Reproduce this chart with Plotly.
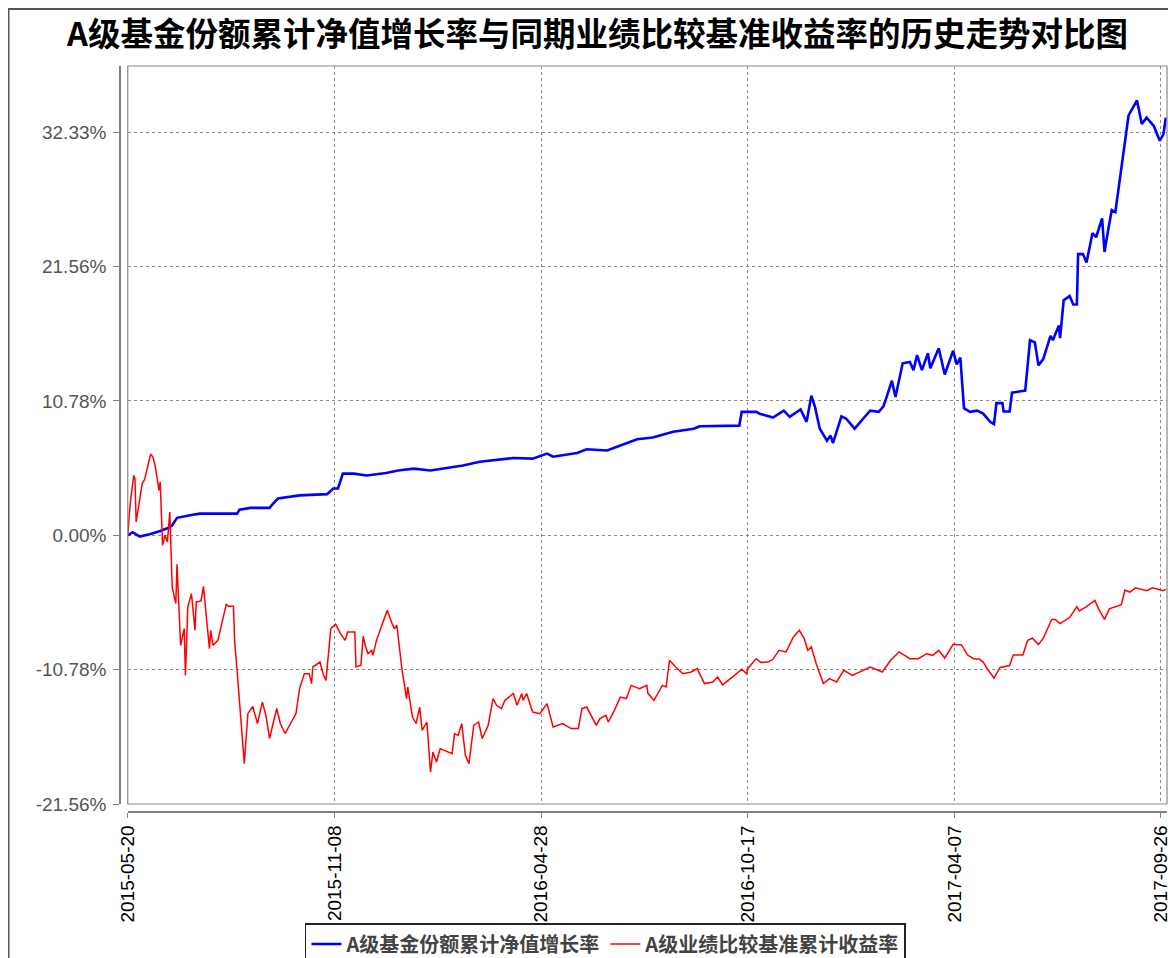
import plotly.graph_objects as go

# ---- data ----
fund_dates = [
    "2015-05-20", "2015-05-24", "2015-05-30", "2015-06-08", "2015-06-16", "2015-06-23", "2015-06-26", "2015-06-30",
    "2015-07-11", "2015-07-19", "2015-08-19", "2015-08-21", "2015-08-30", "2015-09-15", "2015-09-18", "2015-09-22",
    "2015-10-10", "2015-11-02", "2015-11-07", "2015-11-11", "2015-11-15", "2015-11-24", "2015-12-05", "2015-12-21",
    "2015-12-31", "2016-01-13", "2016-01-27", "2016-02-23", "2016-03-08", "2016-04-05", "2016-04-21", "2016-05-03",
    "2016-05-08", "2016-05-28", "2016-06-05", "2016-06-22", "2016-07-03", "2016-07-17", "2016-07-30", "2016-08-16",
    "2016-09-02", "2016-09-07", "2016-10-10", "2016-10-12", "2016-10-24", "2016-10-27", "2016-11-07", "2016-11-16",
    "2016-11-21", "2016-11-30", "2016-12-05", "2016-12-09", "2016-12-12", "2016-12-16", "2016-12-22", "2016-12-25",
    "2016-12-27", "2016-12-30", "2017-01-03", "2017-01-07", "2017-01-14", "2017-01-21", "2017-01-27", "2017-02-03",
    "2017-02-07", "2017-02-10", "2017-02-14", "2017-02-17", "2017-02-21", "2017-02-23", "2017-03-01", "2017-03-04",
    "2017-03-07", "2017-03-11", "2017-03-16", "2017-03-18", "2017-03-25", "2017-03-30", "2017-04-06", "2017-04-09",
    "2017-04-12", "2017-04-15", "2017-04-20", "2017-04-26", "2017-05-01", "2017-05-07", "2017-05-10", "2017-05-12",
    "2017-05-17", "2017-05-18", "2017-05-23", "2017-05-25", "2017-06-05", "2017-06-09", "2017-06-13", "2017-06-16",
    "2017-06-20", "2017-06-23", "2017-06-26", "2017-06-28", "2017-07-03", "2017-07-04", "2017-07-07", "2017-07-12",
    "2017-07-15", "2017-07-18", "2017-07-19", "2017-07-23", "2017-07-26", "2017-07-31", "2017-08-03", "2017-08-08",
    "2017-08-10", "2017-08-12", "2017-08-16", "2017-08-19", "2017-08-23", "2017-08-26", "2017-08-30", "2017-09-06",
    "2017-09-10", "2017-09-14", "2017-09-20", "2017-09-25", "2017-09-28", "2017-09-30",
]
fund_values = [
    0.0, 0.25, -0.1, 0.1, 0.35, 0.6, 0.8, 1.4,
    1.6, 1.74, 1.74, 2.06, 2.2, 2.2, 2.54, 2.95,
    3.2, 3.3, 3.75, 3.75, 4.95, 4.95, 4.8, 5.0,
    5.2, 5.35, 5.2, 5.6, 5.9, 6.2, 6.15, 6.55,
    6.3, 6.6, 6.9, 6.8, 7.2, 7.7, 7.85, 8.3,
    8.55, 8.75, 8.8, 9.9, 9.9, 9.75, 9.45, 10.0,
    9.5, 10.1, 9.1, 11.2, 10.3, 8.55, 7.6, 8.0,
    7.4, 8.4, 9.55, 9.35, 8.55, 9.35, 10.0, 9.9,
    10.35, 11.2, 12.4, 11.1, 12.85, 13.8, 13.9, 13.25,
    14.45, 13.25, 14.6, 13.4, 15.0, 12.9, 14.8, 13.7,
    14.25, 10.2, 9.9, 10.0, 9.76, 9.09, 8.92, 10.6,
    10.6, 9.93, 9.93, 11.44, 11.61, 15.65, 15.48, 13.63,
    14.14, 14.98, 15.99, 15.65, 16.83, 15.82, 18.86, 19.19,
    18.52, 18.52, 22.56, 22.56, 21.89, 24.25, 23.91, 25.42,
    22.73, 23.91, 26.1, 25.93, 28.63, 30.81, 33.68, 34.9,
    33.0, 33.51, 32.84, 31.66, 32.16, 33.51,
]

bench_dates = [
    "2015-05-20", "2015-05-22", "2015-05-25", "2015-05-26", "2015-05-27", "2015-06-01", "2015-06-03", "2015-06-08",
    "2015-06-10", "2015-06-12", "2015-06-15", "2015-06-16", "2015-06-18", "2015-06-20", "2015-06-22", "2015-06-24",
    "2015-06-26", "2015-06-29", "2015-06-30", "2015-07-03", "2015-07-06", "2015-07-07", "2015-07-09", "2015-07-12",
    "2015-07-15", "2015-07-16", "2015-07-20", "2015-07-22", "2015-07-27", "2015-07-28", "2015-07-30", "2015-08-03",
    "2015-08-10", "2015-08-12", "2015-08-16", "2015-08-17", "2015-08-19", "2015-08-25", "2015-08-28", "2015-09-01",
    "2015-09-05", "2015-09-09", "2015-09-12", "2015-09-15", "2015-09-21", "2015-09-24", "2015-09-28", "2015-10-07",
    "2015-10-10", "2015-10-14", "2015-10-18", "2015-10-20", "2015-10-21", "2015-10-27", "2015-10-30", "2015-11-01",
    "2015-11-05", "2015-11-09", "2015-11-13", "2015-11-17", "2015-11-19", "2015-11-25", "2015-11-26", "2015-11-30",
    "2015-12-02", "2015-12-04", "2015-12-06", "2015-12-09", "2015-12-10", "2015-12-13", "2015-12-16", "2015-12-22",
    "2015-12-26", "2015-12-28", "2015-12-30", "2016-01-03", "2016-01-07", "2016-01-08", "2016-01-12", "2016-01-15",
    "2016-01-18", "2016-01-20", "2016-01-24", "2016-01-27", "2016-01-29", "2016-02-01", "2016-02-04", "2016-02-14",
    "2016-02-16", "2016-02-19", "2016-02-22", "2016-02-25", "2016-02-28", "2016-03-03", "2016-03-07", "2016-03-10",
    "2016-03-15", "2016-03-19", "2016-03-22", "2016-03-26", "2016-03-29", "2016-04-05", "2016-04-08", "2016-04-12",
    "2016-04-13", "2016-04-16", "2016-04-21", "2016-04-27", "2016-05-03", "2016-05-08", "2016-05-16", "2016-05-23",
    "2016-05-29", "2016-06-01", "2016-06-05", "2016-06-13", "2016-06-16", "2016-06-21", "2016-06-23", "2016-06-28",
    "2016-07-03", "2016-07-08", "2016-07-12", "2016-07-19", "2016-07-25", "2016-07-26", "2016-07-31", "2016-08-07",
    "2016-08-10", "2016-08-13", "2016-08-18", "2016-08-24", "2016-08-31", "2016-09-05", "2016-09-11", "2016-09-18",
    "2016-09-22", "2016-09-26", "2016-10-06", "2016-10-12", "2016-10-16", "2016-10-17", "2016-10-24", "2016-10-28",
    "2016-11-03", "2016-11-07", "2016-11-12", "2016-11-18", "2016-11-24", "2016-11-29", "2016-12-03", "2016-12-06",
    "2016-12-09", "2016-12-13", "2016-12-19", "2016-12-24", "2016-12-30", "2017-01-05", "2017-01-12", "2017-01-27",
    "2017-02-06", "2017-02-13", "2017-02-20", "2017-03-01", "2017-03-08", "2017-03-15", "2017-03-20", "2017-03-25",
    "2017-03-30", "2017-04-06", "2017-04-13", "2017-04-18", "2017-04-23", "2017-04-28", "2017-05-01", "2017-05-05",
    "2017-05-10", "2017-05-15", "2017-05-23", "2017-05-26", "2017-06-03", "2017-06-07", "2017-06-11", "2017-06-16",
    "2017-06-20", "2017-06-27", "2017-06-30", "2017-07-04", "2017-07-12", "2017-07-18", "2017-07-20", "2017-07-26",
    "2017-08-02", "2017-08-05", "2017-08-10", "2017-08-14", "2017-08-24", "2017-08-27", "2017-08-31", "2017-09-05",
    "2017-09-14", "2017-09-19", "2017-09-28", "2017-09-30",
]
bench_values = [
    0.0, 2.5, 4.8, 4.55, 1.07, 4.15, 4.47, 6.5,
    6.28, 5.48, 3.61, 4.28, -0.8, 0.0, -0.53, 1.87,
    -4.15, -5.48, -2.33, -8.83, -7.49, -11.24, -5.75, -4.68,
    -7.62, -5.35, -5.27, -4.09, -9.09, -7.62, -8.83, -8.43,
    -5.54, -5.7, -5.7, -8.56, -10.83, -18.32, -14.31, -13.72,
    -15.11, -13.38, -14.45, -16.3, -13.9, -15.1, -15.9, -14.3,
    -12.3, -11.1, -11.1, -11.9, -10.57, -10.17, -11.24, -11.64,
    -7.49, -7.14, -7.89, -8.43, -7.76, -7.76, -10.57, -10.43,
    -8.1, -8.96, -9.5, -9.23, -9.63, -8.43, -7.62, -6.02,
    -7.09, -7.5, -7.22, -10.57, -13.1, -12.17, -14.58, -15.1,
    -13.78, -15.65, -14.98, -19.0, -17.39, -18.19, -17.12, -17.52,
    -15.92, -16.05, -15.11, -17.66, -18.32, -15.25, -14.98, -16.32,
    -15.25, -13.1, -13.64, -13.91, -13.24, -12.7, -13.64, -12.7,
    -13.24, -12.7, -14.18, -14.31, -13.51, -15.38, -15.11, -15.51,
    -15.51, -13.91, -13.78, -15.25, -14.71, -14.45, -14.98, -14.05,
    -12.98, -13.1, -12.04, -12.3, -12.04, -12.7, -13.24, -12.04,
    -12.17, -10.03, -10.57, -11.1, -10.97, -10.7, -11.9, -11.77,
    -11.37, -12.0, -11.24, -10.75, -11.1, -10.7, -9.9, -10.2,
    -10.17, -9.95, -9.23, -9.36, -8.16, -7.62, -8.29, -9.23,
    -8.96, -10.3, -11.9, -11.5, -11.77, -10.83, -11.24, -10.57,
    -10.97, -10.03, -9.36, -9.9, -9.9, -9.5, -9.63, -9.23,
    -9.85, -8.75, -8.8, -9.61, -9.9, -9.95, -10.17, -10.79,
    -11.45, -10.6, -10.45, -9.61, -9.61, -8.43, -8.26, -8.77,
    -8.26, -6.75, -6.75, -7.08, -6.58, -5.73, -6.07, -5.73,
    -5.23, -5.9, -6.75, -5.9, -5.57, -4.39, -4.56, -4.22,
    -4.45, -4.22, -4.45, -4.32,
]

y_tick_values = [-21.56, -10.78, 0.0, 10.78, 21.56, 32.33]
y_tick_labels = ["-21.56%", "-10.78%", "0.00%", "10.78%", "21.56%", "32.33%"]
x_tick_dates = ["2015-05-20", "2015-11-08", "2016-04-28", "2016-10-17", "2017-04-07", "2017-09-26"]

series_names = ["A级基金份额累计净值增长率", "A级业绩比较基准累计收益率"]
title_text = "A级基金份额累计净值增长率与同期业绩比较基准收益率的历史走势对比图"

# ---- figure ----
fig = go.Figure()
fig.add_trace(go.Scatter(x=fund_dates, y=fund_values, mode="lines", name=series_names[0],
                         line=dict(color="#0000FF", width=2.6)))
fig.add_trace(go.Scatter(x=bench_dates, y=bench_values, mode="lines", name=series_names[1],
                         line=dict(color="#FF0000", width=1.5)))

grid = "#8a8a8a"
fig.update_layout(
    width=1168, height=950,
    margin=dict(l=112, r=9, t=58, b=146, autoexpand=False),
    paper_bgcolor="white", plot_bgcolor="white",
    title=dict(text="<b>" + title_text + "</b>", x=0.5047, xref="container", xanchor="center",
               y=0.9716, yref="container", yanchor="middle",
               font=dict(family="Noto Sans CJK SC", size=32.5, color="#000000")),
    xaxis=dict(
        type="date", range=["2015-05-20", "2017-10-01"],
        domain=[0.0074, 1.0], anchor="free", position=0, automargin=False,
        tickvals=x_tick_dates, ticktext=x_tick_dates, tickangle=-90,
        tickfont=dict(family="Liberation Sans, Arial", size=19, color="#000000"),
        ticks="outside", ticklen=5, tickcolor="#808080",
        showline=True, linecolor="#808080", linewidth=1.5,
        showgrid=True, gridcolor=grid, gridwidth=1, griddash="3px,3px",
        zeroline=False,
    ),
    yaxis=dict(
        range=[-21.56, 37.65],
        domain=[0.0107, 1.0], anchor="free", position=0, automargin=False,
        tickvals=y_tick_values, ticktext=y_tick_labels,
        tickfont=dict(family="Liberation Sans, Arial", size=19, color="#555555"),
        ticks="outside", ticklen=6, tickcolor="#808080", ticklabelstandoff=3,
        showline=True, linecolor="#808080", linewidth=1.5,
        showgrid=True, gridcolor=grid, gridwidth=1, griddash="3px,3px",
        zeroline=False,
    ),
    legend=dict(
        orientation="h", x=0.4637, xanchor="center", y=-0.1488, yanchor="top",
        bordercolor="#222222", borderwidth=1.5, bgcolor="white",
        font=dict(family="Noto Sans CJK SC", size=20, color="#444444", weight="bold"),
        itemwidth=30,
    ),
    showlegend=True,
)

# plot-area outline
fig.add_shape(type="rect", xref="x domain", yref="y domain", x0=0, x1=1, y0=0, y1=1,
              line=dict(color="#8a8a8a", width=1.2), layer="above")
# outer image frame (left and top edges visible)
fig.add_shape(type="rect", xref="paper", yref="paper", x0=-0.1065, x1=1.02, y0=-0.21, y1=1.0764,
              line=dict(color="#555555", width=2), layer="above")

fig.write_html("out.html")
